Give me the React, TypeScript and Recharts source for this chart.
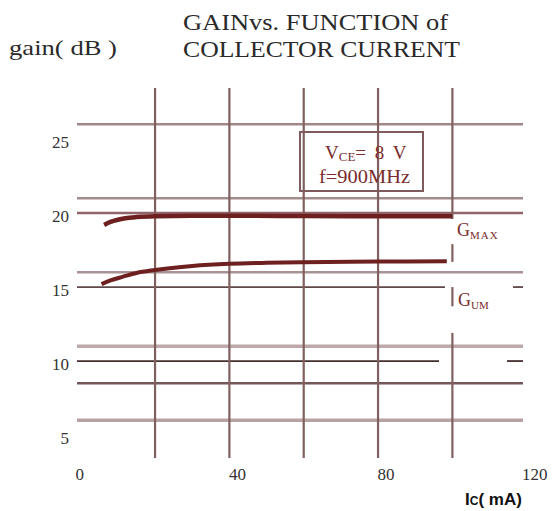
import React from 'react';
import { LineChart, Line, XAxis, YAxis, ReferenceLine } from 'recharts';

// values
const gmaxCurrent = [6.3, 8, 10, 12, 15, 20, 30, 40, 60, 80, 100];
const gmaxGain = [19.2, 19.4, 19.55, 19.65, 19.73, 19.79, 19.82, 19.82, 19.8, 19.78, 19.78];
const gumCurrent = [5.6, 8, 11.4, 15, 20, 30, 40, 50, 60, 80, 98.5];
const gumGain = [15.2, 15.45, 15.7, 15.95, 16.15, 16.42, 16.57, 16.64, 16.68, 16.72, 16.74];

const xTicks = [0, 40, 80, 120];
const yTicks = [5, 10, 15, 20, 25];
const vGrid = [20, 40, 60, 80];
const hGrid = [26, 21, 20, 16, 11, 8.5, 6];

// lines that are interrupted by the curve labels
const gain15Pieces = [[-1, 98], [116.3, 119]];
const gain10Pieces = [[-1, 96.4], [114.7, 119]];
const current100Pieces = [[19.6, 28.45], [16.7, 17.9], [13.7, 15.0], [3.45, 11.9]];

const gmaxData = gmaxCurrent.map((x, i) => ({ x, g: gmaxGain[i] }));
const gumData = gumCurrent.map((x, i) => ({ x, g: gumGain[i] }));

const hStyle = (v: number) => {
  switch (v) {
    case 26: return { stroke: '#a28789', w: 2.6 };
    case 21: return { stroke: '#a28d8e', w: 2.6 };
    case 20: return { stroke: '#906468', w: 2.6 };
    case 16: return { stroke: '#a89293', w: 2.6 };
    case 15: return { stroke: '#604748', w: 1.8 };
    case 11: return { stroke: '#bda9aa', w: 3.5 };
    case 10: return { stroke: '#432e2e', w: 1.8 };
    case 8.5: return { stroke: '#735759', w: 2.6 };
    default: return { stroke: '#b9a2a3', w: 3.5 };
  }
};

const vColor = '#80605f';
const curveColor = '#6e1f1f';
const labelColor = '#7b2c2c';
const serif = '"Liberation Serif", "DejaVu Serif", serif';

const XTick = (props: any) => {
  const { x, payload } = props;
  return (
    <text x={x + (payload.value > 0 ? 8 : -1)} y={480} textAnchor="middle" fontSize={17} fontFamily={serif} fill="#333">
      {payload.value}
    </text>
  );
};

const YTick = (props: any) => {
  const { y, payload } = props;
  return (
    <text x={69} y={y + 9} textAnchor="end" fontSize={17} fontFamily={serif} fill="#333">
      {payload.value}
    </text>
  );
};

export default function App() {
  return (
    <div style={{ position: 'absolute', left: 0, top: 0, width: 553, height: 511, background: '#fff' }}>
      <LineChart width={553} height={511} margin={{ top: 88, right: 30, bottom: 13, left: 17 }}>
        <XAxis
          type="number"
          dataKey="x"
          domain={[-1, 119]}
          ticks={xTicks}
          interval={0}
          allowDataOverflow
          axisLine={false}
          tickLine={false}
          height={40}
          tick={<XTick />}
        />
        <YAxis
          type="number"
          domain={[3.45, 28.45]}
          ticks={yTicks}
          interval={0}
          allowDataOverflow
          axisLine={false}
          tickLine={false}
          width={60}
          tick={<YTick />}
        />
        {hGrid.map((v) => (
          <ReferenceLine key={'h' + v} y={v} stroke={hStyle(v).stroke} strokeWidth={hStyle(v).w} />
        ))}
        {gain15Pieces.map(([a, b], i) => (
          <ReferenceLine key={'g15' + i} segment={[{ x: a, y: 15 }, { x: b, y: 15 }]} stroke={hStyle(15).stroke} strokeWidth={hStyle(15).w} />
        ))}
        {gain10Pieces.map(([a, b], i) => (
          <ReferenceLine key={'g10' + i} segment={[{ x: a, y: 10 }, { x: b, y: 10 }]} stroke={hStyle(10).stroke} strokeWidth={hStyle(10).w} />
        ))}
        {vGrid.map((v) => (
          <ReferenceLine key={'v' + v} x={v} stroke={vColor} strokeWidth={2.2} />
        ))}
        {current100Pieces.map(([a, b], i) => (
          <ReferenceLine key={'c100' + i} segment={[{ x: 100, y: a }, { x: 100, y: b }]} stroke={vColor} strokeWidth={2.2} />
        ))}
        <Line data={gmaxData} dataKey="g" type="monotone" stroke={curveColor} strokeWidth={4.5} dot={false} isAnimationActive={false} />
        <Line data={gumData} dataKey="g" type="monotone" stroke={curveColor} strokeWidth={4} dot={false} isAnimationActive={false} />
      </LineChart>
      <svg width={553} height={511} style={{ position: 'absolute', left: 0, top: 0, pointerEvents: 'none' }}>
        <g fontFamily={serif} fill="#2a2a2a">
          <text x={183} y={30} fontSize={23} textLength={265} lengthAdjust="spacingAndGlyphs">GAINvs. FUNCTION of</text>
          <text x={183} y={57} fontSize={23} textLength={277} lengthAdjust="spacingAndGlyphs">COLLECTOR CURRENT</text>
          <text x={9} y={55} fontSize={21} textLength={108} lengthAdjust="spacingAndGlyphs">gain( dB )</text>
        </g>
        <rect x={300} y={132} width={123} height={59} fill="none" stroke="#7d5b5d" strokeWidth={2} />
        <g fontFamily={serif} fill={labelColor}>
          <text x={325} y={159} fontSize={19}>
            V<tspan fontSize={13} dy={2}>CE</tspan><tspan fontSize={19} dy={-2} letterSpacing={2}>= 8 V</tspan>
          </text>
          <text x={319} y={183} fontSize={19} textLength={91} lengthAdjust="spacingAndGlyphs">f=900MHz</text>
          <text x={457} y={236} fontSize={18}>
            G<tspan fontSize={11} dy={3} letterSpacing={1}>MAX</tspan>
          </text>
          <text x={458} y={306} fontSize={18}>
            G<tspan fontSize={11} dy={3}>UM</tspan>
          </text>
        </g>
        <text x={465} y={505} fontFamily='"Liberation Sans", Arial, sans-serif' fontWeight="bold" fontSize={17} fill="#111">
          I<tspan fontSize={12}>C</tspan>( mA)
        </text>
      </svg>
    </div>
  );
}
